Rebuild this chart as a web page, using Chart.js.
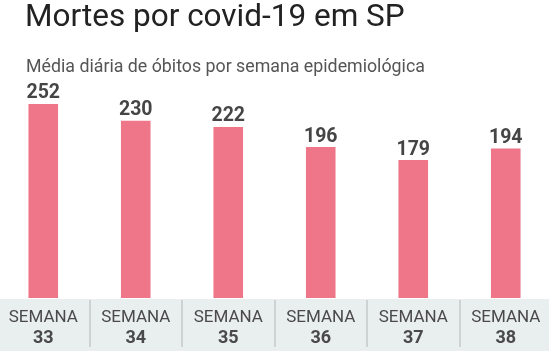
<!DOCTYPE html>
<html>
<head>
<meta charset="utf-8">
<script src="https://cdn.jsdelivr.net/npm/chart.js@4"></script>
<style>
  html, body { margin: 0; padding: 0; background: #fff; overflow: hidden; }
  body { width: 549px; height: 351px; position: relative; font-family: Roboto, "Noto Sans", sans-serif; }
  #title { position: absolute; left: 25px; top: 0px; font-size: 31.5px; line-height: 32px; color: #222; white-space: nowrap; }
  #subtitle { position: absolute; left: 26px; top: 57px; font-size: 17.8px; line-height: 18px; color: #555; white-space: nowrap; }
  #wrap { position: absolute; left: -3px; top: 0; width: 555px; height: 351px; }
</style>
</head>
<body>
<div id="wrap"><canvas id="c" width="555" height="351"></canvas></div>
<div id="title">Mortes por covid-19 em SP</div>
<div id="subtitle">Média diária de óbitos por semana epidemiológica</div>
<script>
const weeks = ["33", "34", "35", "36", "37", "38"];
const weekWord = ["SEMANA", "SEMANA", "SEMANA", "SEMANA", "SEMANA", "SEMANA"];
const deaths = [252, 230, 222, 196, 179, 194];

const bandPlugin = {
  id: 'band',
  beforeDraw(chart) {
    const { ctx, chartArea, width, height } = chart;
    const xs = chart.scales.x;
    ctx.save();
    ctx.fillStyle = '#e9eeee';
    ctx.fillRect(0, chartArea.bottom + 1, width, height - chartArea.bottom - 1);
    ctx.strokeStyle = '#c6c9c9';
    ctx.lineWidth = 1.5;
    for (let i = 0; i < weeks.length - 1; i++) {
      const xm = Math.round((xs.getPixelForValue(i) + xs.getPixelForValue(i + 1)) / 2);
      ctx.beginPath();
      ctx.moveTo(xm, chartArea.bottom + 2);
      ctx.lineTo(xm, height - 4);
      ctx.stroke();
    }
    ctx.restore();
  }
};

const valuePlugin = {
  id: 'values',
  afterDatasetsDraw(chart) {
    const { ctx } = chart;
    const meta = chart.getDatasetMeta(0);
    ctx.save();
    ctx.font = 'bold 19.5px Roboto';
    ctx.fillStyle = '#454545';
    ctx.textAlign = 'center';
    ctx.textBaseline = 'alphabetic';
    meta.data.forEach((bar, i) => {
      ctx.fillText(String(deaths[i]), bar.x, bar.y - 5.5);
    });
    ctx.restore();
  }
};

new Chart(document.getElementById('c'), {
  type: 'bar',
  data: {
    labels: weekWord,
    datasets: [{
      data: deaths,
      backgroundColor: '#ef7689',
      categoryPercentage: 1,
      barPercentage: 0.32
    }]
  },
  options: {
    responsive: false,
    animation: false,
    devicePixelRatio: 1,
    layout: { padding: { top: 80, bottom: 4, left: 0, right: 0 } },
    plugins: { legend: { display: false }, tooltip: { enabled: false } },
    scales: {
      y: { display: false, min: 0, max: 283 },
      x: {
        weight: 0,
        afterFit: (s) => { s.height = 29; },
        grid: { display: false, drawTicks: false, tickLength: 0 },
        border: { display: false },
        ticks: { padding: 11.5, color: '#4a4a4a', font: { family: 'Roboto', size: 17, lineHeight: 1 }, maxRotation: 0, autoSkip: false }
      },
      x2: {
        type: 'category',
        position: 'bottom',
        weight: 1,
        labels: weeks,
        offset: true,
        afterFit: (s) => { s.height = 20; },
        grid: { display: false, drawTicks: false, tickLength: 0 },
        border: { display: false },
        ticks: { padding: 2, color: '#4a4a4a', font: { family: 'Roboto', size: 18, weight: 'bold', lineHeight: 1 }, maxRotation: 0, autoSkip: false }
      }
    }
  },
  plugins: [bandPlugin, valuePlugin]
});
</script>
</body>
</html>
